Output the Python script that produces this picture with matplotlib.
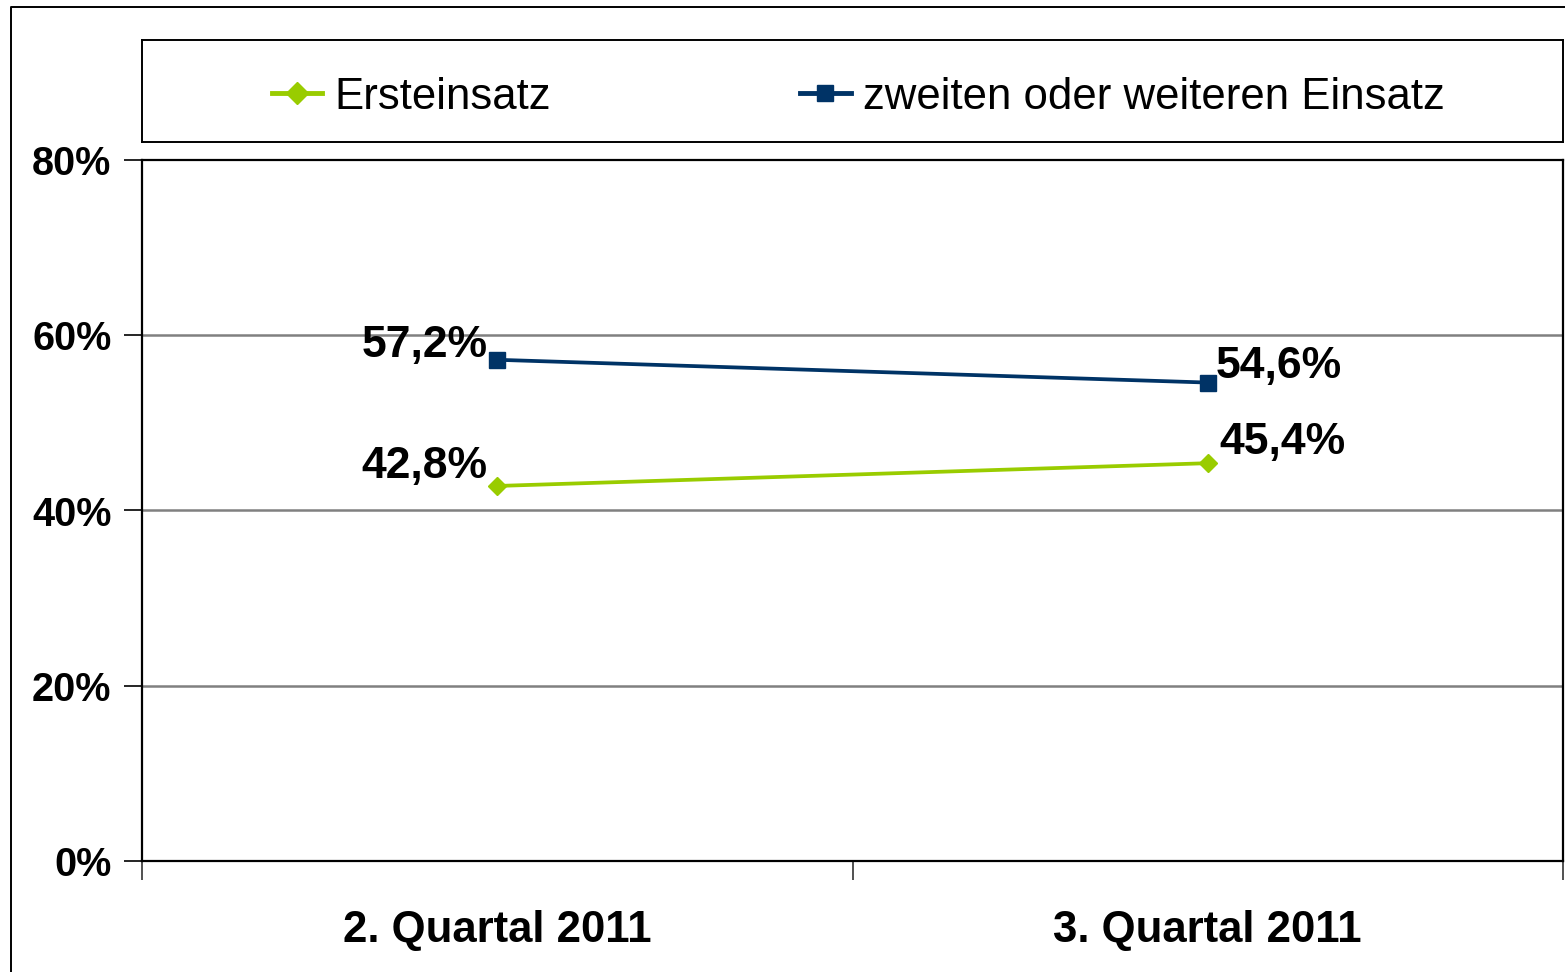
import matplotlib
matplotlib.use("Agg")
import matplotlib.pyplot as plt
from matplotlib.lines import Line2D

plt.rcParams['font.family'] = ['Liberation Sans', 'DejaVu Sans']

categories = ["2. Quartal 2011", "3. Quartal 2011"]
series_names = ["Ersteinsatz", "zweiten oder weiteren Einsatz"]
erst = [42.8, 45.4]
zweit = [57.2, 54.6]
yticks = [0, 20, 40, 60, 80]
ytick_labels = ["0%", "20%", "40%", "60%", "80%"]

GREEN = "#99CC00"
NAVY = "#003366"

fig = plt.figure(figsize=(15.65, 9.72), dpi=100)
ax = fig.add_axes([142/1565, 1-861/972, (1563-142)/1565, (861-160)/972])

x = list(range(len(categories)))
l1, = ax.plot(x, erst, color=GREEN, lw=2.7, marker='D', ms=9.5, mec=GREEN, mfc=GREEN,
              label=series_names[0], zorder=4)
l2, = ax.plot(x, zweit, color=NAVY, lw=2.7, marker='s', ms=11.5, mec=NAVY, mfc=NAVY,
              label=series_names[1], zorder=4)

def fmt(v):
    return f"{v:.1f}%".replace('.', ',')

lab_kw = dict(fontsize=32, fontweight='bold', color='black', textcoords='offset pixels', zorder=5)
ax.annotate(fmt(zweit[0]), (x[0], zweit[0]), xytext=(-10, 3), ha='right', va='baseline', **lab_kw)
ax.annotate(fmt(erst[0]), (x[0], erst[0]), xytext=(-10, 8), ha='right', va='baseline', **lab_kw)
ax.annotate(fmt(zweit[1]), (x[1], zweit[1]), xytext=(8, 5), ha='left', va='baseline', **lab_kw)
ax.annotate(fmt(erst[1]), (x[1], erst[1]), xytext=(12, 9), ha='left', va='baseline', **lab_kw)

ax.set_xlim(-0.5, len(categories) - 0.5)
ax.set_ylim(0, 80)
ax.set_yticks(yticks)
ax.set_yticklabels(ytick_labels, fontsize=28.5, fontweight='bold')
ax.set_xticks(x)
ax.set_xticklabels(categories, fontsize=31.5, fontweight='bold')
ax.set_xticks([i - 0.5 for i in range(len(categories) + 1)], minor=True)
ax.tick_params(axis='x', which='major', length=0, pad=35)
ax.tick_params(axis='x', which='minor', length=14, width=1.2, color='#333333')
ax.tick_params(axis='y', which='major', length=13, width=1.2, pad=9)

for v in yticks[1:-1]:
    ax.axhline(v, color='#808080', lw=1.8, zorder=1)

for s in ax.spines.values():
    s.set_color('black')
    s.set_linewidth(1.6)

# legend box
lax = fig.add_axes([142/1565, 1-142/972, (1563-142)/1565, (142-40)/972])
lax.set_xticks([]); lax.set_yticks([])
for s in lax.spines.values():
    s.set_color('black'); s.set_linewidth(1.4)
leg = lax.legend(handles=[l1, l2], loc='center', bbox_to_anchor=(0.504, 0.44), ncol=2,
                 frameon=False, fontsize=31.5,
                 handlelength=1.15, handletextpad=0.28, columnspacing=5.7, borderpad=0)
for h in leg.legend_handles:
    h.set_linewidth(3.5)
    h.set_markersize(11)

# outer chart frame
fig.add_artist(Line2D([11/1565, 11/1565, 1.0], [0.0, 1-7/972, 1-7/972],
                      transform=fig.transFigure, color='black', lw=1.4))

fig.savefig("out.png", dpi=100)
